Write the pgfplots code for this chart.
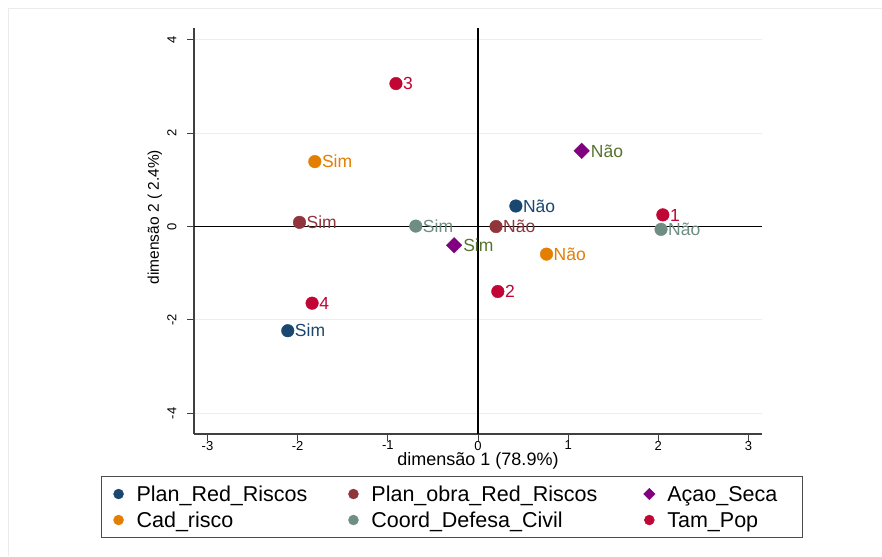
\documentclass[border=0pt]{standalone}
\usepackage{fontspec}
\setmainfont{Liberation Sans}
\usepackage{pgfplots}
\pgfplotsset{compat=1.18}
\definecolor{cnavy}{HTML}{1A476F}
\definecolor{cmaroon}{HTML}{90353B}
\definecolor{cpurple}{HTML}{800080}
\definecolor{colive}{HTML}{55752F}
\definecolor{corange}{HTML}{E37E00}
\definecolor{cteal}{HTML}{6E8E84}
\definecolor{ccran}{HTML}{C10534}
\pgfplotsset{
  lab/.style={only marks, mark=*, mark size=6.3pt, color=#1,
    nodes near coords, point meta=explicit symbolic,
    legend image code/.code={\path[draw=none,fill=none] (-6pt,-1pt) rectangle (6pt,1pt);
      \draw[##1,mark size=5pt] plot coordinates {(0pt,0pt)};}},
}
\begin{document}
\begin{tikzpicture}[x=1pt,y=1pt]
\useasboundingbox (0,0) rectangle (882,556);
\fill[white] (0,0) rectangle (882,556);
\draw[black!8, line width=1pt] (8,0) -- (8,547) -- (882,547);
\begin{axis}[
  at={(194pt,122pt)}, anchor=south west,
  scale only axis, width=568pt, height=406pt,
  xmin=-3.15, xmax=3.15, ymin=-4.44, ymax=4.25,
  axis x line*=bottom, axis y line*=left,
  axis line style={-, draw=black!75, line width=1.3pt},
  xtick={-3,-2,-1,0,1,2,3}, ytick={-4,-2,0,2,4},
  tick align=outside, major tick length=7pt,
  tick style={black!75, line width=1pt},
  ymajorgrids, major grid style={black!7, line width=1pt},
  /pgf/number format/assume math mode=true,
  ticklabel style={font=\fontsize{13}{15}\selectfont},
  xticklabel style={yshift=3.5pt},
  yticklabel style={rotate=90, anchor=south, yshift=7pt},
  xlabel={dimensão 1 (78.9\%)}, ylabel={dimensão 2 ( 2.4\%)},
  xlabel style={font=\fontsize{18}{20}\selectfont, at={(axis description cs:0.5,-0.066)}, anchor=center},
  ylabel style={font=\fontsize{15.5}{18}\selectfont, at={(axis description cs:-0.0687,0.534)}, anchor=center},
  clip=false,
  every node near coord/.append style={anchor=west, xshift=7pt, inner sep=0pt,
    text height=12.5pt, text depth=0pt, font=\fontsize{17.5}{20}\selectfont},
  legend columns=3,
  legend cell align=left,
  legend style={at={(-0.1637,-0.1034)}, anchor=north west,
    draw=black!70, line width=1.1pt, inner xsep=11pt, inner ysep=9pt,
    font=\fontsize{21.5}{24}\selectfont,
    nodes={inner sep=0pt, text height=16pt, text depth=1pt},
    row sep=9pt,
    /tikz/every odd column/.append style={column sep=12pt},
    /tikz/every even column/.append style={column sep=40pt}},
  legend image post style={line width=0.4pt},
]
\draw[black, line width=1.1pt] (axis cs:0,-4.44) -- (axis cs:0,4.25);
\draw[black, line width=1.1pt] (axis cs:-3.15,0) -- (axis cs:3.15,0);

\addplot[lab=cnavy] coordinates {(-2.11,-2.23) [Sim] (0.42,0.44) [Não]};
\addlegendentry{Plan\_Red\_Riscos}
\addplot[lab=cmaroon] coordinates {(-1.98,0.09) [Sim] (0.20,0.00) [Não]};
\addlegendentry{Plan\_obra\_Red\_Riscos\kern6pt}
\addplot[lab=cpurple, mark=square*, mark size=5.5pt, mark options={rotate=45},
  every node near coord/.append style={text=colive, xshift=2pt},
  legend image post style={every mark/.append style={scale=0.8}}]
  coordinates {(-0.265,-0.40) [Sim] (1.15,1.62) [Não]};
\addlegendentry{Açao\_Seca\kern14pt}
\addplot[lab=corange] coordinates {(-1.81,1.39) [Sim] (0.76,-0.59) [Não]};
\addlegendentry{Cad\_risco}
\addplot[lab=cteal] coordinates {(-0.69,0.01) [Sim] (2.03,-0.06) [Não]};
\addlegendentry{Coord\_Defesa\_Civil}
\addplot[lab=ccran] coordinates {(2.05,0.25) [1] (0.22,-1.39) [2] (-0.91,3.06) [3] (-1.84,-1.64) [4]};
\addlegendentry{Tam\_Pop}
\end{axis}
\end{tikzpicture}
\end{document}
